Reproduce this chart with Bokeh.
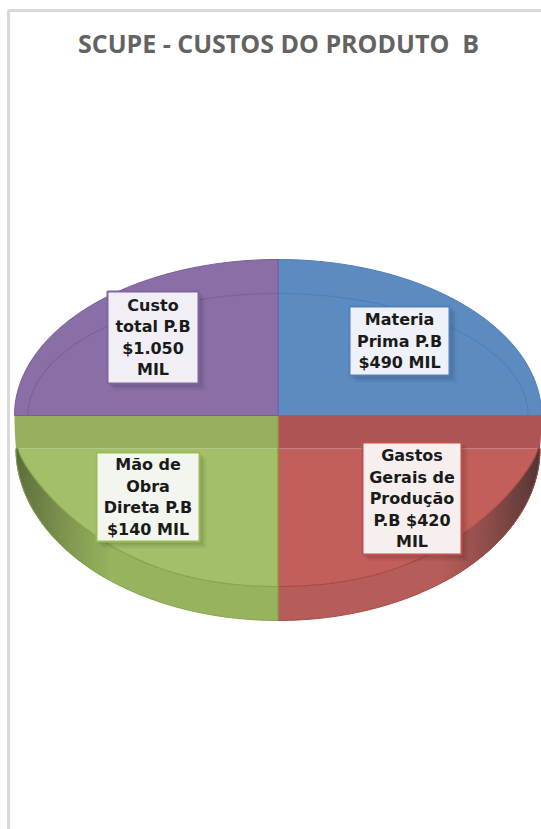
import numpy as np
from bokeh.plotting import figure
from bokeh.models import Range1d
from bokeh.core.properties import value
from bokeh.embed import file_html
from bokeh.resources import INLINE

title_text = "SCUPE - CUSTOS DO PRODUTO\u00a0\u00a0B"
slice_names = ["Materia Prima", "Gastos Gerais", "Mão de Obra", "Custo total"]
# Sectors are drawn as equal quarters of the disc; the amounts appear only in the callouts.
slice_shares = [25, 25, 25, 25]
slice_labels = [
    ["Materia", "Prima P.B", "$490 MIL"],
    ["Gastos", "Gerais de", "Produção", "P.B $420", "MIL"],
    ["Mão de", "Obra", "Direta P.B", "$140 MIL"],
    ["Custo", "total P.B", "$1.050", "MIL"],
]
top_colors = ["#5B8BC1", "#C35F5A", "#A3BF68", "#8A6FA6"]
band_colors = [None, "#B05354", "#98AF60", None]
edge_colors = ["#4A7DB5", "#A84A47", "#86A24E", "#775C96"]
wall_colors = [None, "#B65D59", "#97B35D", None]
wall_dark = [None, "#4E3533", "#5A6A3C", None]
box_colors = ["#EEF1F7", "#F6EFEE", "#F3F6EE", "#F1EFF5"]
box_edges = ["#4F81BD", "#C0504D", "#9BBB59", "#8064A2"]
box_left = [349, 362, 96, 107]
box_right = [449, 461, 199, 198]
box_top = [306, 442, 452, 291]
box_bottom = [375, 554, 541, 383]

CX, RX = 277.5, 263.5
BACK_CY, BACK_RY = 415, 156
RIM_RX, RIM_RY = 250, 122
FACE_CY, FACE_RX, FACE_RY = 448, 260, 138
WALL_CY, WALL_RX, WALL_RY = 448, 262, 172
LINE_STEP = 21.5

p = figure(width=541, height=829, x_range=Range1d(0, 541), y_range=Range1d(829, 0),
           output_backend="svg", toolbar_location=None, min_border=0)
p.axis.visible = False
p.grid.visible = False
p.outline_line_color = None
p.background_fill_color = "white"
p.border_fill_color = "white"

# Chart frame: only the top and left edges fall inside the page
p.line([8, 8, 541], [829, 10, 10], line_color="#D9D9D9", line_width=3)


def ell(cx, cy, rx, ry, a):
    return cx + rx * np.cos(a), cy - ry * np.sin(a)


def face_arc(a):
    # The front edge of the face drops faster near the sides than a true ellipse
    c, s = np.abs(np.cos(a)), np.abs(np.sin(a))
    return CX + FACE_RX * np.cos(a), FACE_CY + FACE_RY * s ** (1 + 0.5 * c)


def rgb(h):
    return np.array([int(h[j:j + 2], 16) for j in (1, 3, 5)], dtype=float)


edges = 90 - np.cumsum([0] + slice_shares) * 3.6
for i in range(len(slice_names)):
    a0, a1 = np.radians(edges[i]), np.radians(edges[i + 1])
    t = np.linspace(a0, a1, 120)
    if band_colors[i] is None:
        # Back sector: flat top with a faint inner rim
        x, y = ell(CX, BACK_CY, RX, BACK_RY, t)
        p.patch(np.r_[CX, x], np.r_[BACK_CY, y], fill_color=top_colors[i],
                line_color=edge_colors[i], line_width=1)
        rim_x, rim_y = ell(CX, BACK_CY, RIM_RX, RIM_RY, t)
        p.line(rim_x, rim_y, line_color=edge_colors[i], line_width=1.2, line_alpha=0.7)
        continue

    # Front sector: plain side wall, darkened in strips towards the disc's side end
    ox, oy = ell(CX, WALL_CY, WALL_RX, WALL_RY, t)
    ix, iy = face_arc(t)
    p.patch(np.r_[ox, ix[::-1]], np.r_[oy, iy[::-1]], fill_color=wall_colors[i], line_color=None)
    c0, c1 = rgb(wall_dark[i]), rgb(wall_colors[i])
    for k in range(len(t) - 1):
        mix = np.clip((1 - abs(np.cos(t[k]))) / 0.36, 0, 1) ** 0.8
        if mix >= 1:
            continue
        hexc = "#%02X%02X%02X" % tuple(int(v) for v in c0 + (c1 - c0) * mix)
        p.patch(np.r_[ox[k:k + 2], ix[k:k + 2][::-1]], np.r_[oy[k:k + 2], iy[k:k + 2][::-1]],
                fill_color=hexc, line_color=hexc, line_width=0.8)
    p.line(ox, oy, line_color=edge_colors[i], line_width=1)

    # Flat face of the sector and the darker band under the back half
    p.patch(np.r_[CX, ix], np.r_[FACE_CY, iy], fill_color=top_colors[i], line_color=None)
    p.line(ix, iy, line_color=edge_colors[i], line_width=1.2)
    sgn = 1 if i == 1 else -1
    by = np.linspace(BACK_CY, FACE_CY, 20)
    bx = CX + sgn * (RX - 1.5 * ((by - BACK_CY) / (FACE_CY - BACK_CY)) ** 2)
    p.patch(np.r_[CX, bx, CX], np.r_[BACK_CY, by, FACE_CY], fill_color=band_colors[i], line_color=None)
    p.line([CX, CX], [BACK_CY, WALL_CY + WALL_RY], line_color=edge_colors[i], line_width=1.5)

# Callouts with a soft drop shadow, one text row per label line
for i in range(len(slice_labels)):
    for off, alpha in ((7, 0.04), (5, 0.05), (3, 0.07)):
        p.quad(left=box_left[i] + off - 1, right=box_right[i] + off, top=box_top[i] + off - 1,
               bottom=box_bottom[i] + off, fill_color="#000000", fill_alpha=alpha, line_color=None)
    p.quad(left=box_left[i], right=box_right[i], top=box_top[i], bottom=box_bottom[i],
           fill_color=box_colors[i], line_color=box_edges[i], line_width=2)
    rows = slice_labels[i]
    mid_x = (box_left[i] + box_right[i]) / 2
    mid_y = (box_top[i] + box_bottom[i]) / 2
    ys = [mid_y + (r - (len(rows) - 1) / 2) * LINE_STEP for r in range(len(rows))]
    p.text([mid_x] * len(rows), ys, rows, text_font=value("DejaVu Sans"), text_font_style="bold",
           text_font_size="16px", text_align="center", text_baseline="middle", text_color="#1A1A1A")

p.text([278], [42], [title_text], text_font=value("Open Sans"), text_font_style="bold",
       text_font_size="25px", text_align="center", text_baseline="middle", text_color="#636363")

open("out.html", "w").write(file_html(p, INLINE))
